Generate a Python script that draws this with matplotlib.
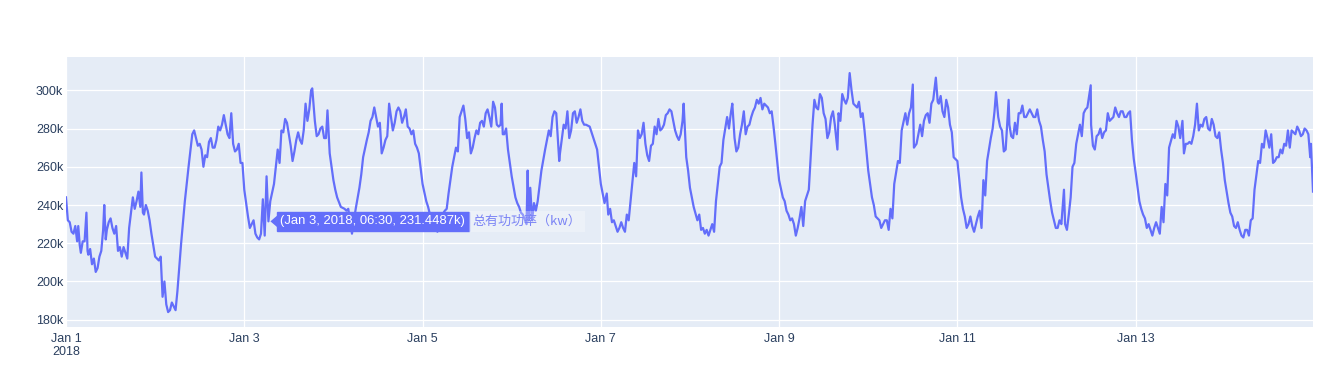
import matplotlib
matplotlib.use("Agg")
import matplotlib.pyplot as plt
import matplotlib.dates as mdates
from matplotlib.patches import Polygon
import pandas as pd

# hourly readings (k kW), one list per day
jan01 = [244, 231, 225, 221, 215, 221, 214, 209, 205, 213, 227, 227, 233, 225, 216, 213, 215, 228, 244, 242, 239, 235, 237, 225]
jan02 = [213, 211, 192, 188, 185, 187, 195, 220, 242, 260, 277, 275, 272, 260, 265, 275, 270, 281, 282, 282, 275, 272, 269, 262]
jan03 = [248, 234, 230, 225, 222, 243, 255, 242, 251, 269, 279, 285, 277, 263, 274, 274, 279, 284, 300, 284, 277, 281, 275, 267]
jan04 = [253, 244, 239, 238, 238, 225, 238, 249, 265, 274, 284, 291, 281, 267, 274, 293, 279, 289, 289, 286, 281, 277, 272, 267]
jan05 = [251, 242, 235, 228, 226, 234, 237, 246, 260, 270, 286, 292, 275, 267, 275, 277, 284, 288, 286, 294, 282, 282, 277, 269]
jan06 = [255, 244, 239, 235, 230, 249, 241, 242, 258, 269, 279, 286, 288, 267, 282, 289, 279, 289, 286, 284, 282, 281, 275, 269]
jan07 = [251, 241, 235, 231, 229, 228, 228, 235, 242, 262, 279, 277, 272, 263, 272, 277, 279, 282, 288, 289, 279, 274, 284, 265]
jan08 = [249, 239, 232, 227, 225, 224, 230, 242, 260, 274, 286, 288, 275, 270, 282, 277, 282, 289, 295, 296, 293, 291, 289, 272]
jan09 = [253, 244, 237, 232, 230, 228, 239, 242, 248, 282, 291, 298, 288, 275, 286, 282, 288, 298, 293, 309, 293, 291, 286, 279]
jan10 = [258, 244, 234, 232, 230, 232, 238, 251, 263, 279, 288, 288, 303, 272, 282, 284, 288, 293, 303, 293, 289, 295, 282, 265]
jan11 = [263, 244, 234, 230, 229, 230, 237, 253, 263, 275, 289, 286, 279, 269, 282, 275, 277, 288, 286, 288, 288, 286, 284, 274]
jan12 = [256, 242, 232, 228, 230, 230, 235, 260, 272, 282, 288, 291, 282, 269, 277, 275, 279, 284, 286, 288, 289, 286, 288, 274]
jan13 = [257, 242, 235, 228, 227, 228, 228, 239, 251, 270, 277, 284, 275, 267, 272, 272, 282, 279, 281, 286, 279, 282, 275, 269]
jan14 = [253, 241, 234, 228, 227, 223, 227, 232, 248, 263, 272, 279, 270, 262, 265, 269, 272, 279, 279, 277, 279, 277, 279, 265]
last_hour = 335.75
last_value = 247

# readings between the full hours (hour of day, k kW): spikes and wiggles
jan01_extra = [(0.5, 232), (1.5, 226), (2.5, 229), (3.3, 229), (3.7, 219), (4.5, 221), (5.5, 236),
               (5.8, 216), (6.5, 217), (7.5, 212), (8.5, 207), (9.5, 216), (10.3, 240), (10.7, 222),
               (11.5, 231), (12.5, 228), (13.5, 229), (14.5, 218), (15.5, 218), (16.5, 212),
               (18.5, 238), (19.5, 247), (20.3, 257), (20.7, 236), (21.5, 240), (22.5, 232)]
jan02_extra = [(1.5, 213), (2.5, 200), (3.5, 184), (4.5, 189), (5.5, 185), (10.5, 279), (11.5, 271),
               (12.5, 269), (13.5, 266), (14.5, 273), (15.5, 270), (16.5, 274), (17.5, 279),
               (18.5, 287), (19.5, 277), (20.5, 288), (21.5, 268), (22.5, 272), (23.5, 262)]
jan03_extra = [(1.5, 228), (2.5, 232), (3.5, 223), (4.5, 225), (5.5, 224), (6.5, 231.4487),
               (9.5, 262), (10.5, 278), (11.5, 283), (12.5, 271), (13.5, 268), (14.5, 278),
               (15.5, 272), (16.5, 293), (17.5, 290), (18.3, 301), (19.5, 276), (20.5, 280),
               (21.5, 275), (22.4, 289.5)]
jan04_extra = [(0.5, 248), (3.5, 237), (7.5, 256), (9.5, 278), (10.5, 286), (12.5, 283), (13.5, 270),
               (14.5, 276), (16.5, 283), (17.5, 291), (18.5, 283), (19.5, 290), (20.5, 280),
               (21.5, 279), (22.5, 270)]
jan05_extra = [(1.5, 239), (2.5, 233), (3.5, 231), (6.5, 238), (9.5, 268), (11.5, 285), (12.5, 278),
               (13.5, 270), (14.5, 279), (15.5, 283), (16.5, 281), (17.5, 290), (18.5, 281),
               (19.5, 291), (20.5, 281), (21.3, 293), (21.6, 277), (22.5, 280), (23.5, 262)]
jan06_extra = [(1.5, 241), (2.5, 236), (4.3, 258), (4.6, 232), (5.5, 232), (6.5, 237), (10.5, 276),
               (11.5, 289), (12.8, 263), (14.5, 280), (15.5, 275), (16.5, 288), (17.5, 283),
               (18.5, 290), (19.5, 282)]
jan07_extra = [(1.6, 246), (2.5, 238), (3.5, 232), (4.5, 226), (5.5, 231), (6.5, 226), (7.5, 232),
               (9.5, 255), (10.5, 275), (11.5, 283), (12.5, 266), (13.5, 271), (14.5, 281),
               (15.5, 285), (16.5, 280), (17.5, 287), (18.5, 290), (20.5, 276), (21.5, 277),
               (22.3, 293), (23.5, 258)]
jan08_extra = [(2.5, 235), (3.5, 228), (4.5, 227), (6.5, 226), (8.5, 262), (9.5, 280), (10.5, 280),
               (11.4, 293), (12.5, 268), (13.5, 277), (14.5, 289), (15.5, 281), (16.5, 286),
               (17.5, 291), (18.5, 293), (19.5, 290), (21.5, 288), (22.5, 281)]
jan09_extra = [(1.5, 242), (2.5, 235), (3.5, 233), (4.5, 224), (5.5, 233), (6.5, 229), (9.5, 295),
               (10.5, 290), (11.5, 296), (12.5, 285), (13.5, 278), (14.5, 289), (15.7, 269),
               (16.5, 284), (17.5, 295), (18.5, 296), (19.5, 300), (20.5, 292), (21.5, 294),
               (22.5, 288)]
jan10_extra = [(1.5, 240), (3.5, 228), (4.5, 232), (5.5, 227), (6.5, 233), (8.5, 262), (10.5, 282),
               (11.5, 291), (12.3, 270), (14.5, 276), (15.5, 287), (16.5, 283), (17.5, 295),
               (18.2, 306.6), (18.7, 294), (19.5, 297), (20.5, 286), (21.5, 291), (22.5, 278)]
jan11_extra = [(1.5, 238), (2.5, 228), (3.5, 234), (4.5, 226), (5.5, 234), (6.5, 228), (7.5, 245),
               (9.5, 280), (10.4, 299), (11.5, 281), (12.5, 268), (13.8, 295), (14.5, 276),
               (15.5, 283), (16.5, 288), (17.5, 292), (18.5, 286), (19.5, 290), (20.5, 286),
               (21.5, 290), (22.5, 281), (23.5, 268)]
jan12_extra = [(1.5, 236), (2.5, 228), (3.5, 232), (4.7, 248), (5.5, 227), (6.5, 244), (7.5, 262),
               (9.5, 276), (10.5, 290), (11.9, 302.6), (12.5, 271), (13.5, 276), (14.5, 280),
               (15.5, 278), (16.5, 288), (17.5, 285), (18.5, 291), (19.5, 286), (20.5, 289),
               (21.5, 286), (22.5, 289), (23.5, 264)]
jan13_extra = [(1.5, 238), (2.5, 233), (3.5, 230), (4.5, 224), (5.5, 231), (6.5, 225), (7.5, 231),
               (8.5, 245), (10.5, 275), (11.5, 281), (12.6, 284), (13.5, 272), (14.5, 273),
               (15.5, 276), (16.5, 293), (17.5, 282), (18.5, 285), (19.5, 280), (20.5, 285),
               (21.5, 276), (22.5, 278), (23.5, 262)]
jan14_extra = [(1.5, 236), (2.5, 229), (3.5, 231), (4.5, 224), (5.5, 227), (6.5, 224), (7.5, 233),
               (9.5, 262), (10.5, 270), (11.5, 275), (12.5, 277), (13.5, 263), (14.5, 265),
               (15.5, 267), (16.5, 271), (17.5, 270), (18.5, 278), (19.5, 281), (20.5, 276),
               (21.5, 280), (22.5, 277), (23.2, 272)]

tick_days = ["2018-01-01", "2018-01-03", "2018-01-05", "2018-01-07", "2018-01-09", "2018-01-11", "2018-01-13"]
tick_labels = ["Jan 1\n2018", "Jan 3", "Jan 5", "Jan 7", "Jan 9", "Jan 11", "Jan 13"]
y_ticks = [180, 200, 220, 240, 260, 280, 300]

hover_time = "2018-01-03 06:30"
hover_value = 231.4487
trace_name = "总有功功率（kw）"

days = [jan01, jan02, jan03, jan04, jan05, jan06, jan07,
        jan08, jan09, jan10, jan11, jan12, jan13, jan14]
extras = [jan01_extra, jan02_extra, jan03_extra, jan04_extra, jan05_extra, jan06_extra, jan07_extra,
          jan08_extra, jan09_extra, jan10_extra, jan11_extra, jan12_extra, jan13_extra, jan14_extra]
hours, values = [], []
for d, (day, extra) in enumerate(zip(days, extras)):
    for h, v in enumerate(day):
        hours.append(d * 24 + h)
        values.append(v)
    for h, v in extra:
        hours.append(d * 24 + h)
        values.append(v)
hours.append(last_hour)
values.append(last_value)
df = pd.DataFrame({"h": hours, "v": values}).sort_values("h")
df["t"] = pd.Timestamp("2018-01-01") + pd.to_timedelta(df["h"], unit="h")

plt.rcParams["font.family"] = ["Liberation Sans", "DejaVu Sans"]
fig = plt.figure(figsize=(13.35, 3.76), dpi=100)
ax = fig.add_axes([66 / 1335, 49 / 376, 1247 / 1335, 270 / 376])
ax.set_facecolor("#E5ECF6")
for s in ax.spines.values():
    s.set_visible(False)

ax.plot(df["t"], df["v"], color="#636EFA", lw=1.6, zorder=3)

ax.set_xlim(pd.Timestamp("2018-01-01"), pd.Timestamp("2018-01-01") + pd.Timedelta(hours=last_hour))
ax.set_ylim(176.2, 317.4)
ax.set_xticks(pd.to_datetime(tick_days))
ax.set_xticklabels(tick_labels)
ax.set_yticks(y_ticks)
ax.set_yticklabels([f"{v}k" for v in y_ticks])
ax.grid(True, color="white", lw=0.9, zorder=0)
ax.set_axisbelow(True)
ax.tick_params(length=0, labelsize=9, labelcolor="#2a3f5f")
ax.tick_params(axis="x", pad=4)
ax.tick_params(axis="y", pad=2)

# hover label: arrow + value box, then the trace name next to it
fig.canvas.draw()
pt = (mdates.date2num(pd.Timestamp(hover_time)), hover_value)
px, py = ax.transData.transform(pt)
tri = Polygon([[px + 2, py], [px + 9, py - 6], [px + 9, py + 6]], closed=True,
              transform=None, fc="#636EFA", ec="none", zorder=5)
fig.patches.append(tri)
box = ax.annotate(f"(Jan 3, 2018, 06:30, {hover_value}k)", xy=pt, xytext=(12, 0),
                  textcoords="offset pixels", ha="left", va="center", color="white",
                  fontsize=9.4, zorder=6,
                  bbox=dict(boxstyle="square,pad=0.25", fc="#636EFA", ec="#636EFA"))
fig.canvas.draw()
box_right = box.get_bbox_patch().get_window_extent().x1
ax.annotate(trace_name, xy=pt, xytext=(box_right - px + 4, 0), textcoords="offset pixels",
            ha="left", va="center", color="#7b84f5", fontsize=9.4, zorder=6,
            family=["Noto Sans CJK SC", "Liberation Sans"],
            bbox=dict(boxstyle="square,pad=0.3", fc="white", ec="none", alpha=0.3))

fig.savefig("out.png", dpi=100)
